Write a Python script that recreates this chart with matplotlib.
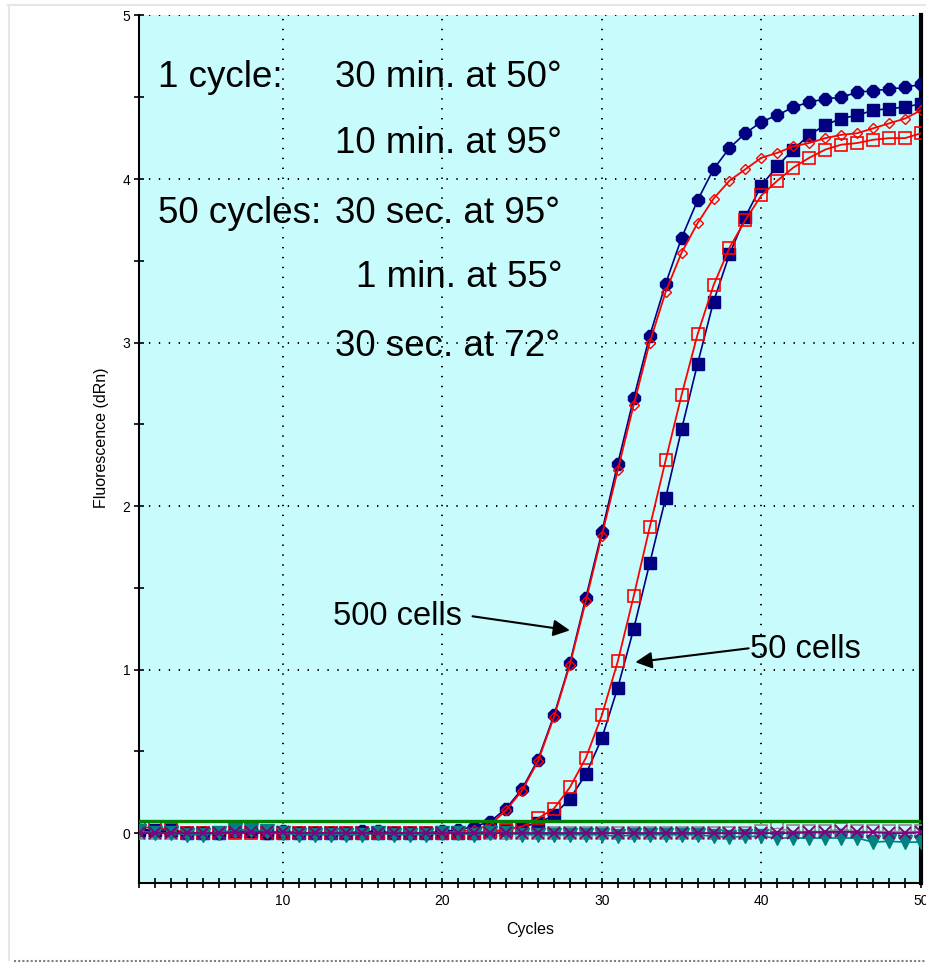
import numpy as np
import matplotlib
matplotlib.use("Agg")
import matplotlib.pyplot as plt
from matplotlib.lines import Line2D
from matplotlib.ticker import MultipleLocator

plt.rcParams['font.family'] = ['Liberation Sans', 'DejaVu Sans']

cycles = list(range(1, 51))

# 500 cells, navy octagons
cells500_blue = [0.02, 0.01, 0.01, 0.00, 0.00, 0.00, 0.01, 0.01, 0.00, 0.01,
                 0.00, 0.00, 0.00, 0.00, 0.01, 0.01, 0.00, 0.00, 0.00, 0.01,
                 0.02, 0.04, 0.07, 0.15, 0.27, 0.45, 0.72, 1.04, 1.44, 1.84,
                 2.26, 2.66, 3.04, 3.36, 3.64, 3.87, 4.06, 4.19, 4.28, 4.35,
                 4.39, 4.44, 4.47, 4.49, 4.50, 4.53, 4.54, 4.55, 4.56, 4.58]
# 500 cells, red open diamonds
cells500_red = [0.01, 0.00, 0.00, 0.00, 0.00, 0.00, 0.00, 0.01, 0.00, 0.00,
                0.00, 0.00, 0.00, 0.00, 0.00, 0.00, 0.00, 0.00, 0.00, 0.00,
                0.01, 0.02, 0.05, 0.14, 0.26, 0.44, 0.71, 1.03, 1.42, 1.82,
                2.22, 2.62, 3.00, 3.31, 3.55, 3.73, 3.88, 3.99, 4.06, 4.13,
                4.16, 4.20, 4.22, 4.25, 4.27, 4.28, 4.31, 4.34, 4.37, 4.42]
# 50 cells, navy filled squares
cells50_blue = [0.02, 0.02, 0.02, 0.00, 0.00, 0.00, 0.01, 0.01, 0.00, 0.00,
                0.00, 0.00, 0.00, 0.00, 0.00, 0.00, 0.00, 0.00, 0.00, 0.00,
                0.00, 0.00, 0.01, 0.02, 0.04, 0.06, 0.11, 0.21, 0.36, 0.58,
                0.89, 1.25, 1.65, 2.05, 2.47, 2.87, 3.25, 3.54, 3.77, 3.96,
                4.08, 4.18, 4.27, 4.33, 4.37, 4.39, 4.42, 4.43, 4.44, 4.46]
# 50 cells, red open squares
cells50_red = [0.04, 0.03, 0.025, 0.00, 0.00, 0.00, 0.00, 0.00, 0.00, 0.00,
               0.00, 0.00, 0.00, 0.00, 0.00, 0.00, 0.00, 0.00, 0.00, 0.00,
               0.00, 0.00, 0.01, 0.02, 0.04, 0.09, 0.15, 0.28, 0.46, 0.72,
               1.05, 1.45, 1.87, 2.28, 2.68, 3.05, 3.35, 3.58, 3.75, 3.90,
               3.99, 4.07, 4.13, 4.18, 4.21, 4.22, 4.24, 4.25, 4.25, 4.28]
# baseline (negative) wells
ntc_teal = [0.01, 0.00, 0.00, -0.01, -0.01, 0.00, 0.02, 0.02, 0.01, 0.00,
            -0.01, -0.01, -0.01, -0.01, -0.01, 0.00, -0.01, -0.01, -0.01, 0.00,
            0.00, -0.01, 0.00, 0.00, -0.01, -0.01, -0.01, -0.01, -0.01, -0.01,
            -0.02, -0.01, -0.01, -0.01, -0.01, -0.01, -0.02, -0.025, -0.02, -0.02,
            -0.03, -0.03, -0.03, -0.03, -0.03, -0.03, -0.055, -0.05, -0.055, -0.055]
ntc_purple = [0.00, 0.00, 0.00, 0.00, 0.00, 0.00, 0.005, 0.005, 0.005, 0.005,
              0.00, 0.00, 0.00, 0.00, 0.00, 0.00, 0.00, 0.00, 0.00, 0.00,
              0.00, 0.00, 0.00, 0.00, 0.00, 0.00, 0.00, 0.00, 0.00, 0.00,
              0.00, 0.00, 0.00, 0.00, 0.00, 0.00, 0.00, 0.00, 0.00, 0.00,
              0.00, 0.00, 0.005, 0.005, 0.01, 0.005, 0.005, 0.00, 0.00, 0.005]
ntc_gray = [0.00, 0.00, 0.00, 0.00, 0.00, 0.00, 0.01, 0.01, 0.00, 0.00,
            0.00, 0.00, 0.00, 0.00, 0.00, 0.00, 0.00, 0.00, 0.00, 0.00,
            0.00, 0.00, 0.00, 0.00, 0.00, 0.00, 0.00, 0.00, 0.00, 0.00,
            0.00, 0.00, 0.00, 0.00, 0.00, 0.00, 0.00, 0.00, 0.00, 0.01,
            0.03, 0.01, 0.01, 0.01, 0.025, 0.01, 0.01, 0.01, 0.01, 0.01]
threshold = 0.073

x_ticks = [10, 20, 30, 40, 50]
y_ticks = [0, 1, 2, 3, 4, 5]

W, H = 926, 964
fig = plt.figure(figsize=(W / 100, H / 100), dpi=100, facecolor='white')
L, R, T, B = 139, 921, 15, 883
ax = fig.add_axes([L / W, 1 - B / H, (R - L) / W, (B - T) / H])
ax.set_facecolor('#C8FCFC')

navy = '#000080'
red = '#FF0000'
teal = '#008080'
purple = '#800080'

ax.plot(cycles, ntc_gray, color='#8A8A8A', lw=1.0, marker='s', ms=8.5,
        mfc='none', mec='#8A8A8A', mew=1.2, zorder=3)
ax.plot(cycles, cells50_blue, color=navy, lw=1.2, marker='s', ms=9,
        mfc=navy, mec=navy, zorder=4)
ax.plot(cycles, cells50_red, color=red, lw=1.3, marker='s', ms=8.5,
        mfc='none', mec=red, mew=1.2, zorder=5)
ax.plot(cycles, cells500_blue, color=navy, lw=1.2, marker='8', ms=9,
        mfc=navy, mec=navy, zorder=6)
ax.plot(cycles, cells500_red, color=red, lw=1.3, marker='D', ms=5,
        mfc='none', mec=red, mew=1.0, zorder=7)
ax.plot(cycles, ntc_teal, color=teal, lw=1.2, marker='v', ms=9.5,
        mfc=teal, mec=teal, zorder=8)
ax.plot(cycles, ntc_purple, color=purple, lw=1.4, marker='x', ms=8,
        mec=purple, mew=1.4, zorder=9)
ax.axhline(threshold, color='#008000', lw=2.4, zorder=10)

ax.set_xlim(1, 50)
ax.set_ylim(-0.305, 5.003)
ax.xaxis.set_major_locator(plt.FixedLocator(x_ticks))
ax.xaxis.set_minor_locator(MultipleLocator(1))
ax.yaxis.set_major_locator(plt.FixedLocator(y_ticks))
ax.yaxis.set_minor_locator(MultipleLocator(0.5))
ax.tick_params(which='both', direction='inout', length=6.5, width=1.2,
               color='black', labelsize=10)
ax.tick_params(axis='y', which='both', pad=3)
ax.tick_params(axis='x', which='both', pad=5)
ax.grid(True, which='major', color='black', linestyle=(0, (0.7, 4.4)), lw=1.4)

for s in ['left', 'bottom']:
    ax.spines[s].set_linewidth(1.5)
    ax.spines[s].set_color('black')
ax.spines['top'].set_visible(False)
ax.spines['right'].set_linewidth(3)
ax.spines['right'].set_color('black')

ax.set_xlabel('Cycles', fontsize=11.5, labelpad=10)
ax.set_ylabel('Fluorescence (dRn)', fontsize=11.5)
ax.yaxis.set_label_coords(-0.038, 0.513)

fs = 26.5
ax.text(2.2, 4.56, '1 cycle:', fontsize=fs, va='baseline', ha='left')
ax.text(13.28, 4.56, '30 min. at 50°', fontsize=fs, va='baseline', ha='left')
ax.text(13.28, 4.16, '10 min. at 95°', fontsize=fs, va='baseline', ha='left')
ax.text(2.2, 3.73, '50 cycles:', fontsize=fs, va='baseline', ha='left')
ax.text(13.28, 3.73, '30 sec. at 95°', fontsize=fs, va='baseline', ha='left')
ax.text(14.6, 3.34, '1 min. at 55°', fontsize=fs, va='baseline', ha='left')
ax.text(13.28, 2.92, '30 sec. at 72°', fontsize=fs, va='baseline', ha='left')

fs2 = 23.5
ax.text(13.15, 1.27, '500 cells', fontsize=fs2, va='baseline', ha='left')
ax.text(39.3, 1.07, '50 cells', fontsize=fs2, va='baseline', ha='left')
ax.annotate('', xy=(28.0, 1.24), xytext=(21.9, 1.326),
            arrowprops=dict(arrowstyle='-|>', color='black', lw=1.5,
                            mutation_scale=25, shrinkA=0, shrinkB=0), zorder=12)
ax.annotate('', xy=(32.1, 1.045), xytext=(39.2, 1.13),
            arrowprops=dict(arrowstyle='-|>', color='black', lw=1.5,
                            mutation_scale=25, shrinkA=0, shrinkB=0), zorder=12)

# outer frame lines (screenshot border)
def px_line(x0, y0, x1, y1, **kw):
    fig.add_artist(Line2D([x0 / W, x1 / W], [1 - y0 / H, 1 - y1 / H],
                          transform=fig.transFigure, **kw))

px_line(8, 5, W, 5, color='#E6E6E6', lw=1.5)
px_line(9, 5, 9, 960, color='#E6E6E6', lw=1.5)
px_line(14, 961, W, 961, color='#808080', lw=1.5, linestyle=(0, (1, 1)))

fig.savefig('out.png', dpi=100, facecolor='white')
